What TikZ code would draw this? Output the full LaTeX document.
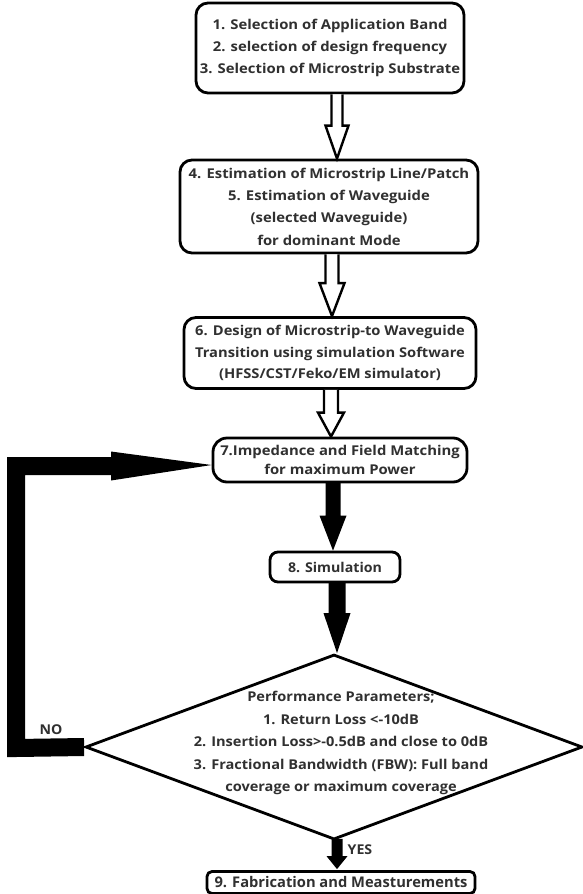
\documentclass[tikz,border=0pt]{standalone}
\usepackage{fontspec}
\setmainfont{Open Sans}
\newfontfamily\fwa{Open Sans}[FakeStretch=1.10]
\newfontfamily\fwb{Open Sans}[FakeStretch=1.09]
\newfontfamily\fwc{Open Sans}[FakeStretch=1.05]
\newfontfamily\fwd{Open Sans}[FakeStretch=1.08]
\usetikzlibrary{calc,shapes.geometric}
\definecolor{txt}{HTML}{303030}
\newcommand{\blockarrow}[6]{%
  \path[#1] let \p1=(#2), \p2=(#3) in
    (\x1-#4pt,\y1) -- (\x1-#4pt,\y2+#6pt) -- (\x1-#5pt,\y2+#6pt) -- (\x1,\y2)
    -- (\x1+#5pt,\y2+#6pt) -- (\x1+#4pt,\y2+#6pt) -- (\x1+#4pt,\y1);
}
\tikzset{
  box/.style={draw=black, line width=2.8pt, rounded corners=12pt, fill=white,
    inner sep=0pt, align=center, text=txt,
    font=\fwa\bfseries\fontsize{13.5}{22.3}\selectfont},
  hollow/.style={draw=black, fill=white, line width=2.4pt, line join=miter},
  solid/.style={fill=black},
  lbl/.style={text=txt, font=\fwc\bfseries\fontsize{13.5}{15}\selectfont, inner sep=0pt},
  noloop/.style={line width=18pt, line join=miter, draw=black},
}
\begin{document}
\begin{tikzpicture}[x=1pt,y=-1pt]
\useasboundingbox[fill=white] (0,0) rectangle (583,894);

\node[box, minimum width=268pt, minimum height=90pt] (b1) at (330,48)
  {1. Selection of Application Band\\2. selection of design frequency\\3. Selection of Microstrip Substrate};
\node[box, minimum width=298pt, minimum height=93pt] (b2) at (329,206.5)
  {4. Estimation of Microstrip Line/Patch\\5. Estimation of Waveguide\\(selected Waveguide)\\for dominant Mode};
\node[box, minimum width=292pt, minimum height=71pt,
  font=\fwb\bfseries\fontsize{13.5}{21.5}\selectfont] (b3) at (330,353)
  {6. Design of Microstrip-to Waveguide\\Transition using simulation Software\\(HFSS/CST/Feko/EM simulator)};
\node[box, minimum width=254pt, minimum height=44pt, rounded corners=14pt,
  font=\fwa\bfseries\fontsize{13.5}{19}\selectfont] (b7) at (340,460)
  {7.Impedance and Field Matching\\for maximum Power};
\node[box, minimum width=130pt, minimum height=30pt, rounded corners=8pt,
  font=\fwc\bfseries\fontsize{13.5}{16}\selectfont] (b8) at (335,567)
  {8. Simulation};
\node[draw=black, line width=2.8pt, diamond, minimum width=497pt, minimum height=185pt,
  inner sep=0pt, fill=white] (d) at (334,747) {};
\node[align=center, text=txt, font=\fwd\bfseries\fontsize{13.5}{22.5}\selectfont, inner sep=0pt] (dt) at (341,743)
  {Performance Parameters;\\1. Return Loss <-10dB\\2. Insertion Loss>-0.5dB and close to 0dB\\3. Fractional Bandwidth (FBW): Full band\\coverage or maximum coverage};
\node[box, minimum width=268pt, minimum height=22pt, rounded corners=5pt,
  font=\bfseries\fontsize{14.7}{18}\selectfont] (b9) at (341,882.5)
  {9. Fabrication and Measturements};

% hollow arrows
\blockarrow{hollow}{$(b1.south)+(7,0)$}{$(b2.north)+(5,0)$}{5.5}{11.5}{33}
\blockarrow{hollow}{$(b2.south)+(3,0)$}{$(b3.north)+(2,0)$}{6.5}{12.5}{33}
\blockarrow{hollow}{$(b3.south)+(1,0)$}{$(b7.north)+(-9,0)$}{7}{13}{24}

% solid arrows
\blockarrow{solid}{$(b7.south)+(-7,-1)$}{$(b8.north)+(-2,0)$}{7.5}{13.5}{35}
\blockarrow{solid}{$(b8.south)+(2,-1)$}{$(d.north)+(3,0)$}{8.5}{13.5}{40}
\blockarrow{solid}{$(d.south)+(3,-2)$}{$(b9.north)+(-4,-1)$}{5.5}{10.5}{13}

% NO loop
\coordinate (c1) at (16,748);
\coordinate (c2) at (16,466);
\coordinate (hb) at (111,466);
\draw[noloop] (d.west) -- (c1) -- (c2) -- (hb);
\path[fill=black] (hb |- 0,451.5) -- ($(b7.west)+(0,5)$) -- (hb |- 0,480.5) -- cycle;

\node[lbl] (no) at (51,730) {NO};
\node[lbl] (yes) at (360,850) {YES};
\end{tikzpicture}
\end{document}
